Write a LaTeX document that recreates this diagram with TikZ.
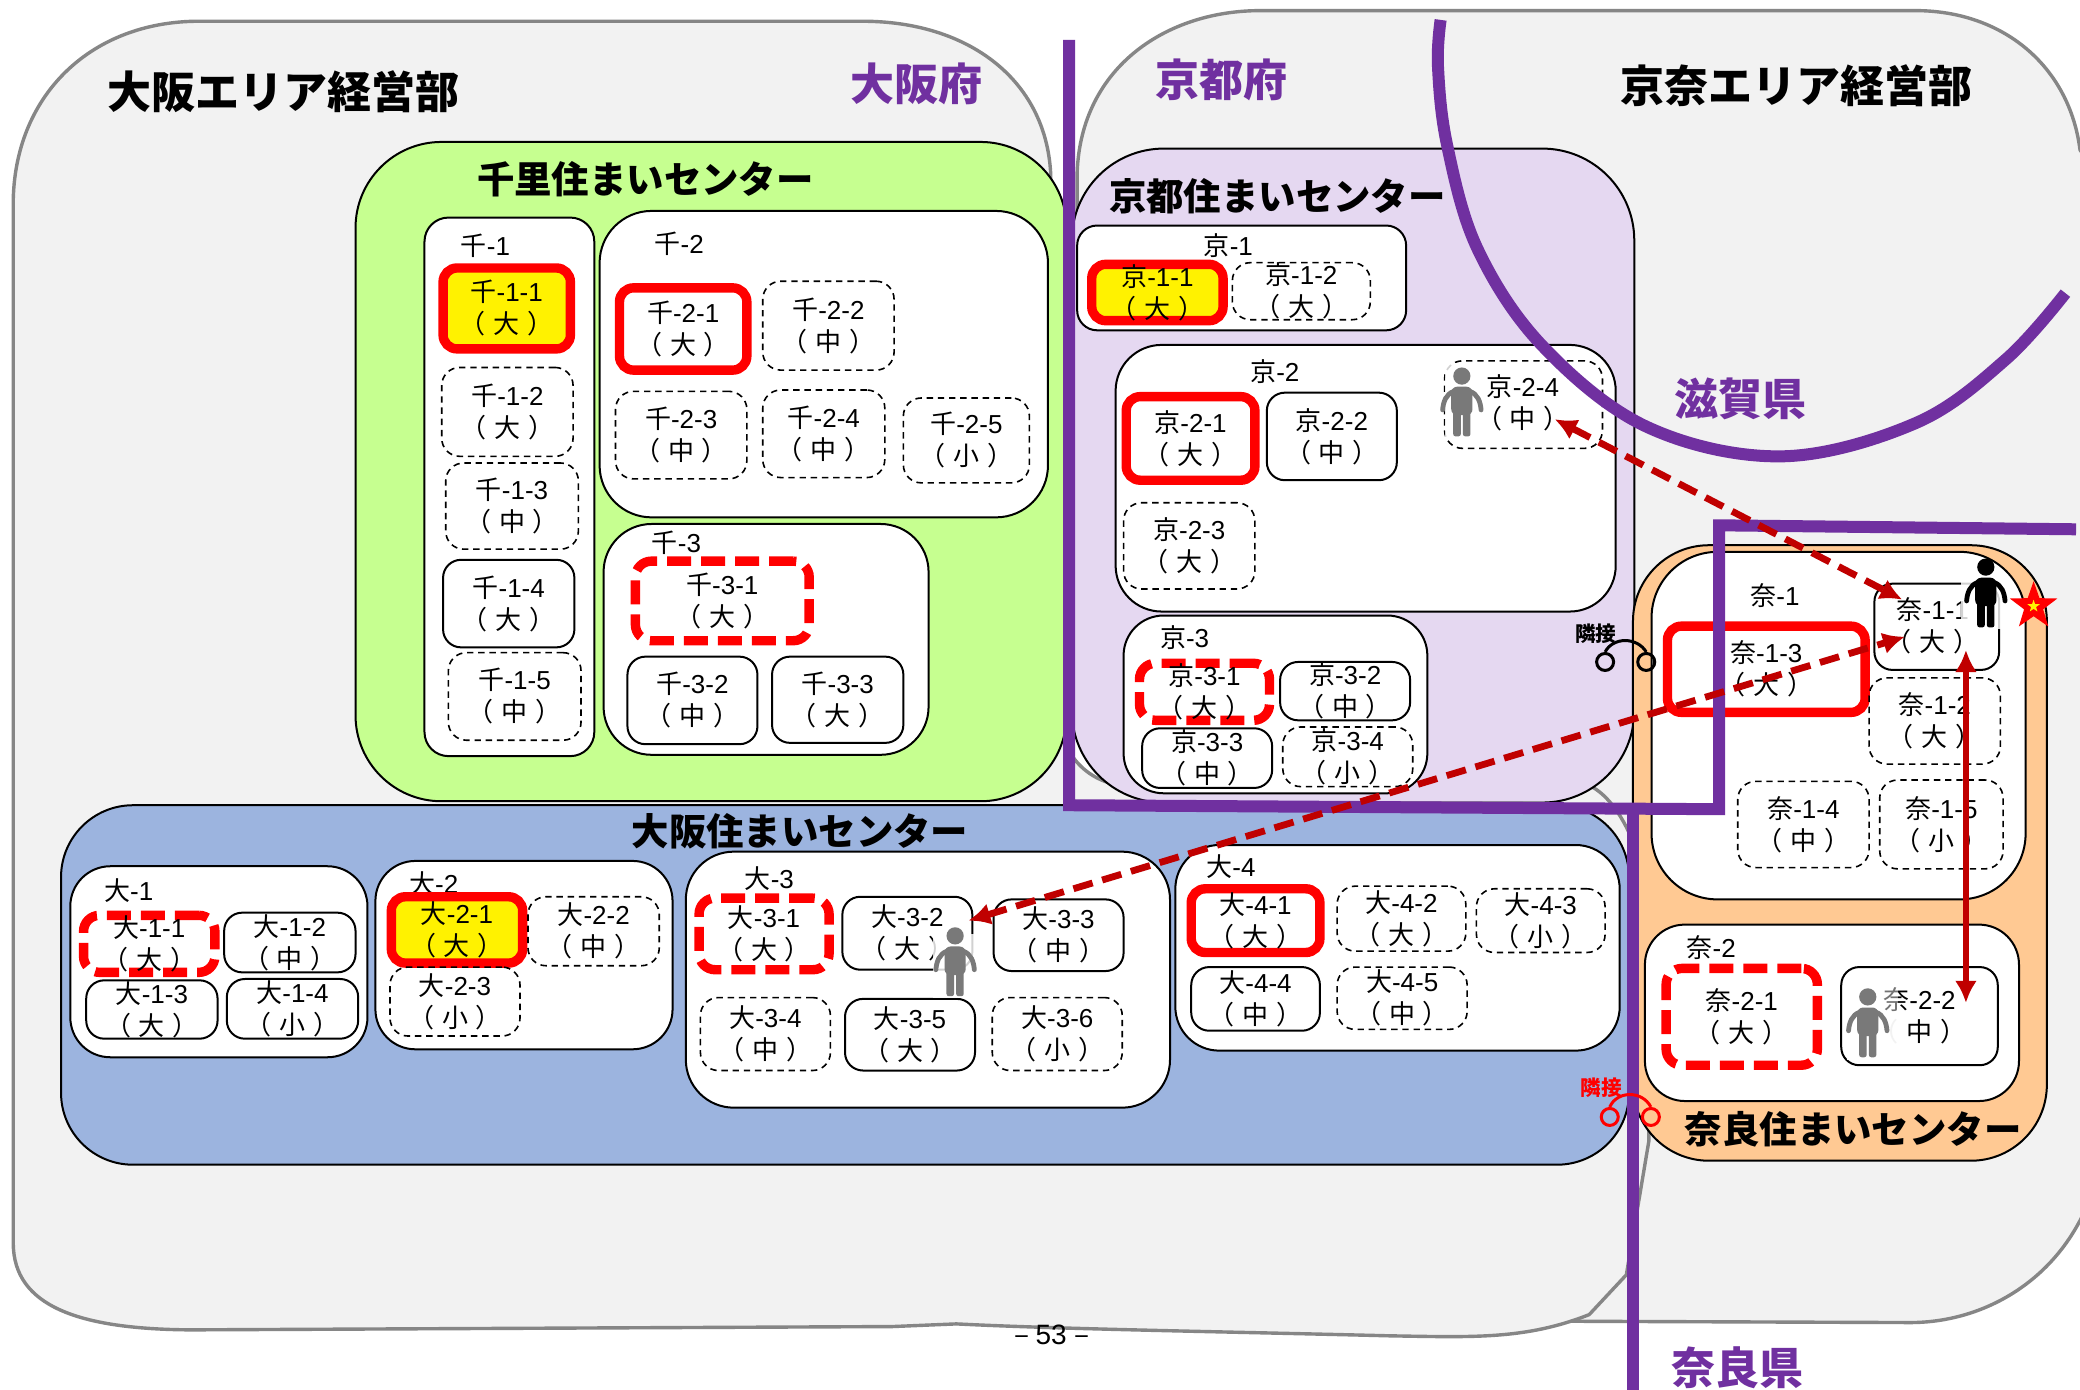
\documentclass[tikz,border=0pt]{standalone}
\usepackage{fontspec}
\setmainfont{Noto Sans CJK JP}
\newfontfamily\cjkfont{Noto Sans CJK JP}
\newfontfamily\latfont{Liberation Sans}
\usetikzlibrary{arrows.meta,shapes.geometric}
\newXeTeXintercharclass\latclass
\XeTeXcharclass`\-=\latclass
\XeTeXcharclass`\0=\latclass
\XeTeXcharclass`\1=\latclass
\XeTeXcharclass`\2=\latclass
\XeTeXcharclass`\3=\latclass
\XeTeXcharclass`\4=\latclass
\XeTeXcharclass`\5=\latclass
\XeTeXcharclass`\6=\latclass
\XeTeXcharclass`\7=\latclass
\XeTeXcharclass`\8=\latclass
\XeTeXcharclass`\9=\latclass
\XeTeXinterchartoks 0 \latclass={\latfont}
\XeTeXinterchartoks 4095 \latclass={\latfont}
\XeTeXinterchartoks \latclass 0={\cjkfont}
\XeTeXinterchartoks 4095 0={\cjkfont}
\definecolor{pur}{HTML}{7030A0}
\definecolor{dred}{HTML}{C00000}
\definecolor{bggray}{HTML}{F2F2F2}
\definecolor{edgegray}{HTML}{868686}
\definecolor{greenbox}{HTML}{C6FF90}
\definecolor{lilac}{HTML}{E5D8F1}
\definecolor{bluebox}{HTML}{9CB4DF}
\definecolor{orangebox}{HTML}{FFC993}
\tikzset{
  x=0.66327pt,y=-0.66327pt,
  base/.style={outer sep=0pt,inner sep=0pt,align=center,font=\fontsize{13}{16}\selectfont},
  area/.style={draw=black,line width=1pt,rounded corners=#1,base},
  group/.style={draw=black,line width=1pt,fill=white,rounded corners=#1,base},
  solidbox/.style={draw=black,line width=1pt,fill=white,rounded corners=9pt,base},
  dashbox/.style={draw=black,line width=.8pt,dash pattern=on 3.2pt off 2.4pt,rounded corners=9pt,base},
  redbox/.style={draw=red,line width=4.7pt,rounded corners=7pt,base},
  reddash/.style={draw=red,line width=4.7pt,dash pattern=on 12pt off 5pt,rounded corners=8pt,base},
  yellowbox/.style={redbox,fill=yellow},
  grouplabel/.style={base},
  title/.style={inner sep=0pt,font=\fontsize{22}{24}\selectfont\bfseries},
  center title/.style={inner sep=0pt,font=\fontsize{18.7}{20}\selectfont\bfseries},
  pref/.style={inner sep=0pt,text=pur,font=\fontsize{22}{24}\selectfont\bfseries},
  border/.style={draw=pur,line width=6pt},
  link/.style={draw=dred,line width=3.4pt,dash pattern=on 10pt off 5pt,{Latex[length=11pt,width=11pt]}-{Latex[length=11pt,width=11pt]}},
  solidlink/.style={draw=dred,line width=3.2pt,{Latex[length=11pt,width=11pt]}-{Latex[length=11pt,width=11pt]}},
  adjacent/.style={line width=1.5pt},
  adjtext/.style={inner sep=0pt,font=\fontsize{10.3}{11}\selectfont\bfseries},
  outline/.style={draw=edgegray,line width=1.7pt},
}
\newcommand\pa[1]{（\kern.3em #1\kern.3em ）}
% name, x1,y1,x2,y2, style, text
\newcommand\bx[7]{\node[#6,anchor=center,minimum width={(#4-#2)*0.66327pt},minimum height={(#5-#3)*0.66327pt}] (#1) at ({(#2+#4)/2},{(#3+#5)/2}) {#7};}
% the same, with the bounds given to the outside of the thick stroke
\newcommand\rbx[7]{\node[#6,anchor=center,minimum width={(#4-#2-6)*0.66327pt},minimum height={(#5-#3-6)*0.66327pt}] (#1) at ({(#2+#4)/2},{(#3+#5)/2}) {#7};}
\newcommand\lb[4]{\node[grouplabel] (#1) at (#2,#3) {#4};}
\newcommand\person[3]{%
  \begin{scope}[shift={(#1,#2)}]
    \fill[#3] (0,6.5) circle[radius=6.5];
    \fill[#3,rounded corners=3pt] (-8,14.5) rectangle (8,36);
    \fill[#3,rounded corners=1.2pt] (-6.5,30) rectangle (-0.8,52);
    \fill[#3,rounded corners=1.2pt] (0.8,30) rectangle (6.5,52);
    \draw[#3,line width=2.4pt,line cap=round] (-6,18) .. controls (-12,20) and (-14,26) .. (-14.5,32);
    \draw[#3,line width=2.4pt,line cap=round] (6,18) .. controls (12,20) and (14,26) .. (14.5,32);
  \end{scope}}
\newcommand\halo[5]{\fill[white,opacity=#5] (#1,#2) rectangle (#3,#4);}
\begin{document}
\XeTeXinterchartokenstate=1
\begin{tikzpicture}
\useasboundingbox (0,0) rectangle (1568,1047.8);
\fill[white] (0,0) rectangle (1568,1047.8);
% large grey regions
\fill[bggray] (812,200) -- (812,130) .. controls (815,50) and (880,8) .. (950,8) -- (1444,8) .. controls (1510,8) and (1560,50) .. (1568,113) -- (1580,130) -- (1580,890) .. controls (1560,960) and (1500,997) .. (1440,997) -- (1184,996) -- cycle;
\fill[bggray] (10,150) .. controls (12,70) and (70,16) .. (150,16) -- (650,16) .. controls (730,16) and (788,60) .. (792,130) -- (800,555) .. controls (815,590) and (840,595) .. (880,595) -- (1190,590) .. controls (1215,592) and (1243,640) .. (1243,700) -- (1243,860) -- (1226,961) -- (1198,991) .. controls (1150,1010) and (1110,1008) .. (1048,1007) .. controls (930,1004) and (800,1002) .. (721,998) -- (673,1000) -- (144,1002.5) .. controls (60,1002) and (10,985) .. (10,937) -- cycle;
\draw[outline] (812,200) -- (812,130) .. controls (815,50) and (880,8) .. (950,8) -- (1444,8) .. controls (1510,8) and (1560,50) .. (1568,113) -- (1580,130) -- (1580,890) .. controls (1560,960) and (1500,997) .. (1440,997) -- (1184,996);
\draw[outline] (10,150) .. controls (12,70) and (70,16) .. (150,16) -- (650,16) .. controls (730,16) and (788,60) .. (792,130) -- (800,555) .. controls (815,590) and (840,595) .. (880,595) -- (1190,590) .. controls (1215,592) and (1243,640) .. (1243,700) -- (1243,860) -- (1226,961) -- (1198,991) .. controls (1150,1010) and (1110,1008) .. (1048,1007) .. controls (930,1004) and (800,1002) .. (721,998) -- (673,1000) -- (144,1002.5) .. controls (60,1002) and (10,985) .. (10,937) -- cycle;
% centre areas
\bx{senri}{268}{107}{804}{604}{area=43pt,fill=greenbox}{}
\bx{kyoto}{808}{112}{1232}{605}{area=46pt,fill=lilac}{}
\bx{osaka}{46}{607}{1228}{878}{area=36pt,fill=bluebox}{}
\bx{nara}{1231}{411}{1543}{875}{area=38pt,fill=orangebox}{}
% Senri
\bx{sa}{320}{164}{448}{570}{group=12pt}{}
\lb{sal}{366}{185}{千-1}
\rbx{sa1}{331}{199}{433}{266}{yellowbox}{千-1-1\\\pa{大}}
\bx{sa2}{333}{277}{432}{344}{dashbox}{千-1-2\\\pa{大}}
\bx{sa3}{336}{349}{436}{414}{dashbox}{千-1-3\\\pa{中}}
\bx{sa4}{334}{422}{433}{488}{solidbox}{千-1-4\\\pa{大}}
\bx{sa5}{338}{492}{438}{558}{dashbox}{千-1-5\\\pa{中}}
\bx{sb}{452}{159}{790}{390}{group=26pt}{}
\lb{sbl}{512}{184}{千-2}
\rbx{sb1}{464}{214}{566}{282}{redbox}{千-2-1\\\pa{大}}
\bx{sb2}{575}{212}{674}{279}{dashbox}{千-2-2\\\pa{中}}
\bx{sb3}{464}{295}{563}{361}{dashbox}{千-2-3\\\pa{中}}
\bx{sb4}{575}{294}{667}{360}{dashbox}{千-2-4\\\pa{中}}
\bx{sb5}{681}{300}{776}{364}{dashbox}{千-2-5\\\pa{小}}
\bx{sc}{455}{395}{700}{569}{group=24pt}{}
\lb{scl}{510}{409}{千-3}
\rbx{sc1}{476}{420}{613}{486}{reddash}{千-3-1\\\pa{大}}
\bx{sc2}{473}{495}{571}{561}{solidbox}{千-3-2\\\pa{中}}
\bx{sc3}{582}{495}{681}{560}{solidbox}{千-3-3\\\pa{大}}
% Kyoto
\bx{ka}{812}{170}{1060}{249}{group=10pt}{}
\lb{kal}{926}{185}{京-1}
\rbx{ka1}{820}{198}{925}{243}{yellowbox}{京-1-1\\\pa{大}}
\bx{ka2}{929}{198}{1033}{241}{dashbox}{京-1-2\\\pa{大}}
\bx{kb}{841}{260}{1218}{461}{group=23pt}{}
\lb{kbl}{961}{280}{京-2}
\rbx{kb1}{846}{296}{949}{365}{redbox}{京-2-1\\\pa{大}}
\bx{kb2}{955}{296}{1053}{362}{solidbox}{京-2-2\\\pa{中}}
\bx{kb3}{847}{379}{946}{444}{dashbox}{京-2-3\\\pa{大}}
\bx{kb4}{1089}{272}{1208}{338}{dashbox}{}
\lb{kb4l}{1148}{304}{京-2-4\\\pa{中}}
\bx{kc}{847}{464}{1076}{598}{group=20pt}{}
\lb{kcl}{893}{481}{京-3}
\rbx{kc1}{856}{497}{960}{546}{reddash}{京-3-1\\\pa{大}}
\bx{kc2}{965}{499}{1063}{543}{solidbox}{京-3-2\\\pa{中}}
\bx{kc3}{861}{549}{959}{594}{solidbox}{京-3-3\\\pa{中}}
\bx{kc4}{967}{548}{1065}{593}{dashbox}{京-3-4\\\pa{小}}
% Osaka
\bx{oa}{53}{653}{277}{797}{group=20pt}{}
\lb{oal}{97}{671}{大-1}
\rbx{oa1}{60}{687}{165}{736}{reddash}{大-1-1\\\pa{大}}
\bx{oa2}{169}{688}{268}{733}{solidbox}{大-1-2\\\pa{中}}
\bx{oa3}{65}{739}{164}{783}{solidbox}{大-1-3\\\pa{大}}
\bx{oa4}{171}{738}{270}{783}{solidbox}{大-1-4\\\pa{小}}
\bx{ob}{283}{649}{507}{791}{group=20pt}{}
\lb{obl}{327}{666}{大-2}
\rbx{ob1}{292}{673}{397}{729}{yellowbox}{大-2-1\\\pa{大}}
\bx{ob2}{398}{676}{497}{728}{dashbox}{大-2-2\\\pa{中}}
\bx{ob3}{294}{729}{392}{781}{dashbox}{大-2-3\\\pa{小}}
\bx{oc}{517}{642}{882}{835}{group=24pt}{}
\lb{ocl}{580}{662}{大-3}
\rbx{oc1}{524}{674}{628}{734}{reddash}{大-3-1\\\pa{大}}
\bx{oc2}{635}{676}{733}{731}{solidbox}{大-3-2\\\pa{大}}
\bx{oc3}{749}{678}{847}{732}{solidbox}{大-3-3\\\pa{中}}
\bx{oc4}{528}{752}{626}{807}{dashbox}{大-3-4\\\pa{中}}
\bx{oc5}{637}{753}{735}{807}{solidbox}{大-3-5\\\pa{大}}
\bx{oc6}{748}{752}{846}{807}{dashbox}{大-3-6\\\pa{小}}
\bx{od}{886}{637}{1221}{792}{group=22pt}{}
\lb{odl}{928}{653}{大-4}
\rbx{od1}{895}{667}{998}{721}{redbox}{大-4-1\\\pa{大}}
\bx{od2}{1008}{668}{1105}{717}{dashbox}{大-4-2\\\pa{大}}
\bx{od3}{1113}{670}{1210}{718}{dashbox}{大-4-3\\\pa{小}}
\bx{od4}{898}{729}{995}{777}{solidbox}{大-4-4\\\pa{中}}
\bx{od5}{1008}{729}{1106}{776}{dashbox}{大-4-5\\\pa{中}}
% Nara
\bx{na}{1245}{416}{1527}{678}{group=33pt}{}
\lb{nal}{1338}{449}{奈-1}
\bx{na1}{1413}{440}{1507}{505}{solidbox}{}
\lb{na1l}{1457}{472}{奈-1-1\\\pa{大}}
\rbx{na3}{1254}{469}{1409}{540}{redbox}{奈-1-3\\\pa{大}}
\bx{na2}{1409}{511}{1508}{576}{dashbox}{奈-1-2\\\pa{大}}
\bx{na4}{1310}{589}{1409}{654}{dashbox}{奈-1-4\\\pa{中}}
\bx{na5}{1417}{588}{1510}{655}{dashbox}{奈-1-5\\\pa{小}}
\bx{nb}{1240}{697}{1522}{830}{group=20pt}{}
\lb{nbl}{1290}{714}{奈-2}
\rbx{nb1}{1253}{727}{1373}{806}{reddash}{奈-2-1\\\pa{大}}
\bx{nb2}{1388}{729}{1506}{803}{solidbox}{}
\lb{nb2l}{1447}{766}{奈-2-2\\\pa{中}}
% people
\halo{1089}{274}{1119}{332}{.82}
\person{1102}{277}{edgegray!90!black}
\halo{703}{704}{737}{752}{.82}
\person{720}{699}{edgegray!90!black}
\halo{1478}{436}{1509}{474}{.82}
\person{1497}{421}{black}
\halo{1392}{743}{1431}{763}{.45}
\halo{1392}{763}{1431}{799}{.95}
\person{1408}{745}{edgegray!90!black}
% prefecture borders
\draw[border] (806,30) -- (806,607) -- (1296,610) -- (1296,396) -- (1565,399);
\draw[border] (1231,610) -- (1231,1048);
\draw[border] plot[smooth,tension=.6] coordinates {(1086,15) (1084,50) (1091,110) (1114,188) (1163,261) (1242,322) (1343,344) (1444,319) (1512,271) (1557,221)};
% titles
\node[title] (areaW) at (213.5,69) {大阪エリア経営部};
\node[title] (areaE) at (1354,65) {京奈エリア経営部};
\node[pref] (prefO) at (691,63) {大阪府};
\node[pref] (prefK) at (921,60) {京都府};
\node[pref] (prefS) at (1312,301) {滋賀県};
\node[pref] (prefN) at (1310,1031) {奈良県};
\node[center title] (tS) at (486.5,135) {千里住まいセンター};
\node[center title] (tK) at (963,148) {京都住まいセンター};
\node[center title] (tO) at (603,627) {大阪住まいセンター};
\node[center title] (tN) at (1397,851) {奈良住まいセンター};
% moves
\coordinate (mA) at (1172,316);
\coordinate (mB) at (1434,452);
\coordinate (mC) at (730,694);
\coordinate (mD) at (1436,480);
\coordinate (mE) at (1482,490);
\coordinate (mF) at (1482,756);
\draw[link] (mA) -- (mB);
\draw[link] (mC) -- (mD);
\draw[solidlink] (mE) -- (mF);
% star
\node[star,star points=5,star point ratio=2.5,fill=red,inner sep=0pt,minimum size=25pt] (goal) at (1533,457) {};
\node[star,star points=5,star point ratio=2.5,fill=yellow,inner sep=0pt,minimum size=6.5pt] (goalin) at (1533,457) {};
% adjacency marks
\node[adjtext] (adjB) at (1203,478) {隣接};
\node[draw=black,adjacent,circle,inner sep=0pt,minimum size=8.5pt] (cb1) at (1210,499) {};
\node[draw=black,adjacent,circle,inner sep=0pt,minimum size=8.5pt] (cb2) at (1241,499) {};
\draw[black,adjacent] (cb1.north) .. controls (1216,480) and (1234,480) .. (cb2.north);
\node[adjtext,text=red] (adjR) at (1207,820) {隣接};
\node[draw=red,adjacent,circle,inner sep=0pt,minimum size=8.5pt] (cr1) at (1213.5,842) {};
\node[draw=red,adjacent,circle,inner sep=0pt,minimum size=8.5pt] (cr2) at (1244.5,842) {};
\draw[red,adjacent] (cr1.north) .. controls (1219,822) and (1238,822) .. (cr2.north);
% page number
\node[inner sep=0pt,font=\fontsize{14}{16}\selectfont] (pg) at (793,1006) {– 53 –};
\end{tikzpicture}
\end{document}
